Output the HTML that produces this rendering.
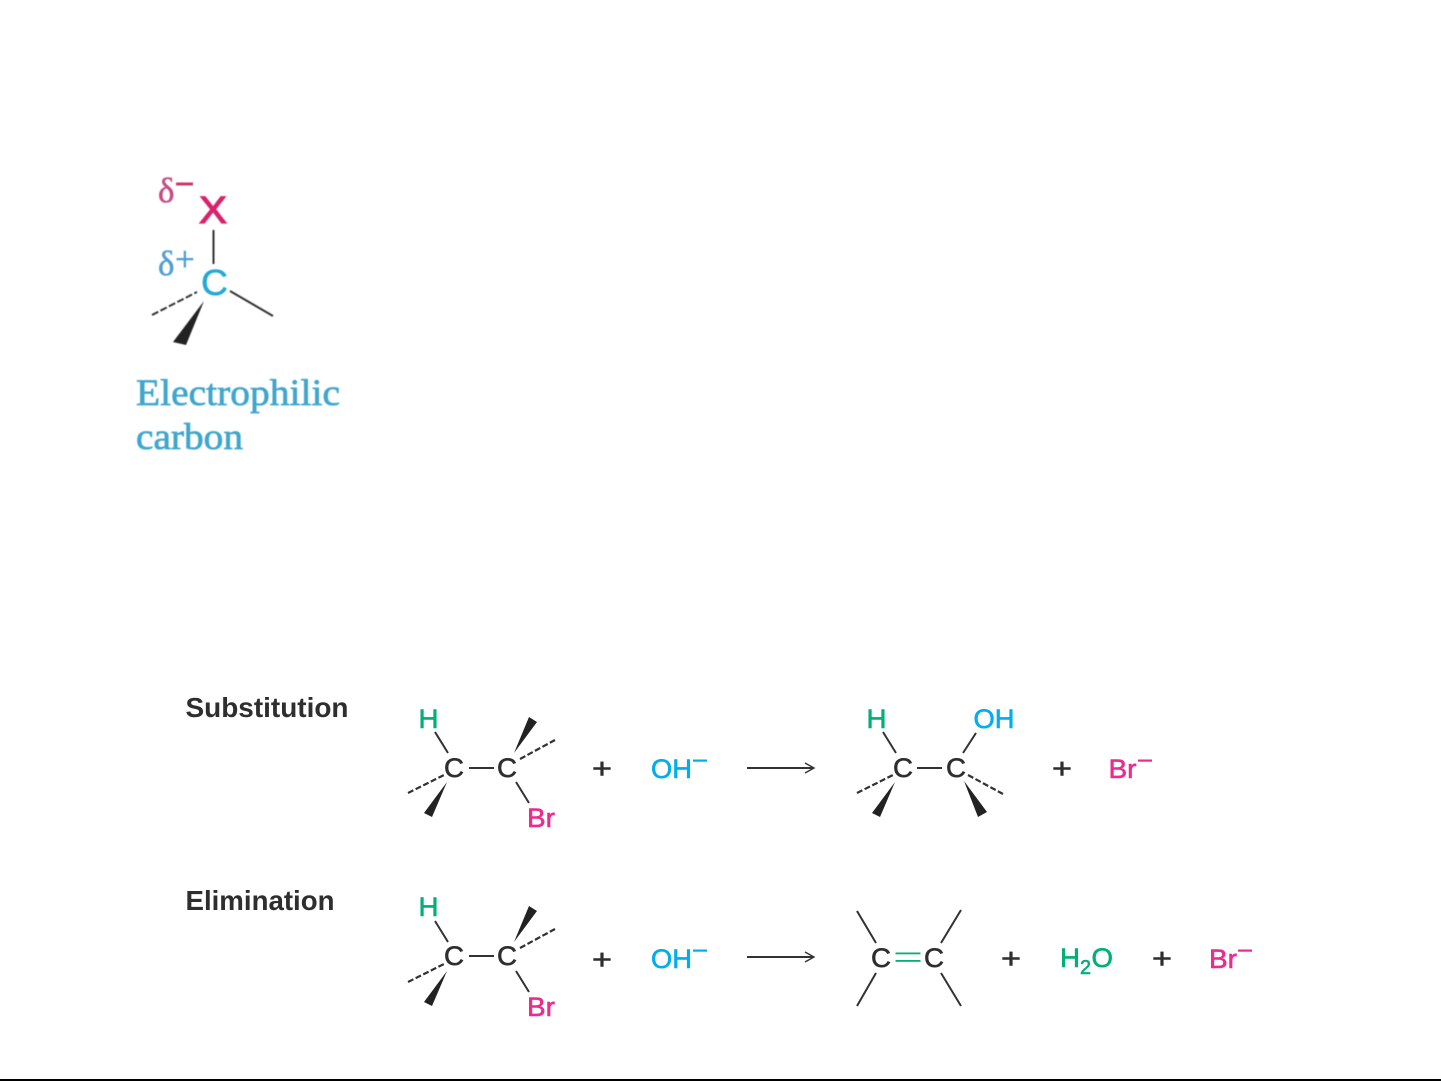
<!DOCTYPE html>
<html>
<head>
<meta charset="utf-8">
<style>
html,body{margin:0;padding:0;background:#fff;width:1441px;height:1081px;overflow:hidden}
svg{display:block}
text{font-family:"Liberation Sans",sans-serif}
.s{font-family:"Liberation Serif",serif}
.k{fill:#2e2e2e;stroke:#2e2e2e;stroke-width:.6}
.g{fill:#00b077;stroke:#00b077;stroke-width:.6}
.b{fill:#00aeef;stroke:#00aeef;stroke-width:.6}
.p{fill:#ec2a90;stroke:#ec2a90;stroke-width:.6}
.n{stroke:none}
line,path.l{stroke:#333;stroke-width:2;fill:none}
.d{stroke-dasharray:6 2.5;stroke-width:2.2}
</style>
</head>
<body>
<svg width="1441" height="1081" viewBox="0 0 1441 1081" xmlns="http://www.w3.org/2000/svg">
<defs>
<filter id="bl"><feGaussianBlur stdDeviation="0.6"/></filter>
<filter id="bs"><feGaussianBlur stdDeviation="0.3"/></filter>
</defs>

<g filter="url(#bl)">
<text class="s" x="158" y="202" font-size="35" fill="#c84a82" stroke="#c84a82" stroke-width=".5">δ</text>
<rect x="176" y="182.500" width="17" height="3" fill="#d0326e"/>
<text x="199" y="223" font-size="38" fill="#d8226c" stroke="#d8226c" stroke-width="1.200" textLength="28" lengthAdjust="spacingAndGlyphs">X</text>
<line x1="213.500" y1="230" x2="213.500" y2="264" stroke="#333" stroke-width="2"/>
<text class="s" x="158" y="275" font-size="35" fill="#4f9fd0" stroke="#4f9fd0" stroke-width=".5">δ</text>
<text class="s" x="175" y="271" font-size="35" fill="#4f9fd0" stroke="#4f9fd0" stroke-width=".5">+</text>
<text x="201" y="295" font-size="36" fill="#22a9d4" stroke="#22a9d4" stroke-width=".5" textLength="27" lengthAdjust="spacingAndGlyphs">C</text>
<line x1="152" y1="315" x2="197" y2="292" stroke="#333" stroke-width="2.400" stroke-dasharray="7 2.500"/>
<line x1="230" y1="291" x2="273" y2="316" stroke="#333" stroke-width="2.200"/>
<path d="M204 301 L173 342 L186 345 Z" fill="#222"/>
<text class="s" x="136" y="405" font-size="37" fill="#3fa6cc" stroke="#3fa6cc" stroke-width=".7" textLength="204" lengthAdjust="spacingAndGlyphs">Electrophilic</text>
<text class="s" x="136" y="449" font-size="37" fill="#3fa6cc" stroke="#3fa6cc" stroke-width=".7" textLength="107" lengthAdjust="spacingAndGlyphs">carbon</text>
</g>

<g filter="url(#bs)">
<text class="k n" x="185.500" y="717" font-size="28" font-weight="700" textLength="163" lengthAdjust="spacingAndGlyphs">Substitution</text>
<text class="k n" x="185.500" y="910" font-size="28" font-weight="700" textLength="149" lengthAdjust="spacingAndGlyphs">Elimination</text>

<!-- Substitution reactant -->
<text class="g" x="418.500" y="728" font-size="27" textLength="20" lengthAdjust="spacingAndGlyphs">H</text>
<line x1="435" y1="732" x2="448" y2="753"/>
<text class="k" x="444" y="777" font-size="27" textLength="20" lengthAdjust="spacingAndGlyphs">C</text>
<line class="d" x1="408" y1="793" x2="444" y2="775"/>
<path d="M447 782 L424 813 L432 817 Z" fill="#222"/>
<line x1="469" y1="768" x2="494" y2="768"/>
<text class="k" x="497" y="777" font-size="27" textLength="20" lengthAdjust="spacingAndGlyphs">C</text>
<path d="M514 753 L529 717 L537 722 Z" fill="#222"/>
<line class="d" x1="520" y1="759" x2="555" y2="740"/>
<line x1="516" y1="782" x2="529" y2="803"/>
<text class="p" x="527" y="827" font-size="27" textLength="28" lengthAdjust="spacingAndGlyphs">Br</text>
<text class="k" x="592" y="778" font-size="28" textLength="20" lengthAdjust="spacingAndGlyphs">+</text>
<text class="b" x="651" y="778" font-size="27" textLength="41" lengthAdjust="spacingAndGlyphs">OH</text>
<rect x="693" y="759.500" width="14" height="2.200" fill="#00aeef"/>
<line x1="747" y1="768" x2="813" y2="768"/>
<path class="l" d="M805 763 L814 768 L805 773" style="stroke-width:1.400"/>

<!-- Substitution product -->
<text class="g" x="866.500" y="728" font-size="27" textLength="20" lengthAdjust="spacingAndGlyphs">H</text>
<line x1="883" y1="732" x2="896" y2="753"/>
<text class="k" x="893" y="777" font-size="27" textLength="20" lengthAdjust="spacingAndGlyphs">C</text>
<line class="d" x1="857" y1="793" x2="893" y2="775"/>
<path d="M895 782 L872 813 L880 817 Z" fill="#222"/>
<line x1="917" y1="768" x2="942" y2="768"/>
<text class="k" x="946" y="777" font-size="27" textLength="20" lengthAdjust="spacingAndGlyphs">C</text>
<text class="b" x="973.500" y="728" font-size="27" textLength="41" lengthAdjust="spacingAndGlyphs">OH</text>
<line x1="963" y1="753" x2="976" y2="733"/>
<line class="d" x1="968" y1="775" x2="1003" y2="794"/>
<path d="M964 781 L978 817 L987 812 Z" fill="#222"/>
<text class="k" x="1052" y="778" font-size="28" textLength="20" lengthAdjust="spacingAndGlyphs">+</text>
<text class="p" x="1108.500" y="778" font-size="27" textLength="28" lengthAdjust="spacingAndGlyphs">Br</text>
<rect x="1138" y="759.500" width="14" height="2.200" fill="#ec2a90"/>

<!-- Elimination reactant -->
<g transform="translate(0,189)">
<text class="g" x="418.500" y="727" font-size="27" textLength="20" lengthAdjust="spacingAndGlyphs">H</text>
<line x1="435" y1="732" x2="448" y2="753"/>
<text class="k" x="444" y="776" font-size="27" textLength="20" lengthAdjust="spacingAndGlyphs">C</text>
<line class="d" x1="408" y1="793" x2="444" y2="775"/>
<path d="M447 782 L424 813 L432 817 Z" fill="#222"/>
<line x1="469" y1="767" x2="494" y2="767"/>
<text class="k" x="497" y="776" font-size="27" textLength="20" lengthAdjust="spacingAndGlyphs">C</text>
<path d="M514 753 L529 717 L537 722 Z" fill="#222"/>
<line class="d" x1="520" y1="759" x2="555" y2="740"/>
<line x1="516" y1="782" x2="529" y2="803"/>
<text class="p" x="527" y="827" font-size="27" textLength="28" lengthAdjust="spacingAndGlyphs">Br</text>
</g>
<text class="k" x="592" y="969" font-size="28" textLength="20" lengthAdjust="spacingAndGlyphs">+</text>
<text class="b" x="651" y="968" font-size="27" textLength="41" lengthAdjust="spacingAndGlyphs">OH</text>
<rect x="693" y="949.500" width="14" height="2.200" fill="#00aeef"/>
<line x1="747" y1="957" x2="813" y2="957"/>
<path class="l" d="M805 952 L814 957 L805 962" style="stroke-width:1.400"/>

<!-- Elimination product -->
<line x1="857" y1="911" x2="876" y2="943"/>
<line x1="961" y1="910" x2="941" y2="943"/>
<line x1="857" y1="1006" x2="876" y2="973"/>
<line x1="961" y1="1006" x2="941" y2="973"/>
<text class="k" x="871" y="967" font-size="27" textLength="20" lengthAdjust="spacingAndGlyphs">C</text>
<text class="k" x="924" y="967" font-size="27" textLength="20" lengthAdjust="spacingAndGlyphs">C</text>
<rect x="895.500" y="952.500" width="25" height="1.800" fill="#00b077"/>
<rect x="895.500" y="960" width="25" height="1.800" fill="#00b077"/>
<text class="k" x="1001" y="968" font-size="28" textLength="20" lengthAdjust="spacingAndGlyphs">+</text>
<text class="g" x="1060" y="967" font-size="27" textLength="20" lengthAdjust="spacingAndGlyphs">H</text>
<text class="g" x="1080" y="974" font-size="20" textLength="11" lengthAdjust="spacingAndGlyphs">2</text>
<text class="g" x="1091.500" y="967" font-size="27" textLength="21.500" lengthAdjust="spacingAndGlyphs">O</text>
<text class="k" x="1152" y="968" font-size="28" textLength="20" lengthAdjust="spacingAndGlyphs">+</text>
<text class="p" x="1209" y="968" font-size="27" textLength="28" lengthAdjust="spacingAndGlyphs">Br</text>
<rect x="1238" y="949.500" width="14" height="2.200" fill="#ec2a90"/>
</g>

<rect x="0" y="1079" width="1441" height="2" fill="#000"/>
</svg>
</body>
</html>
